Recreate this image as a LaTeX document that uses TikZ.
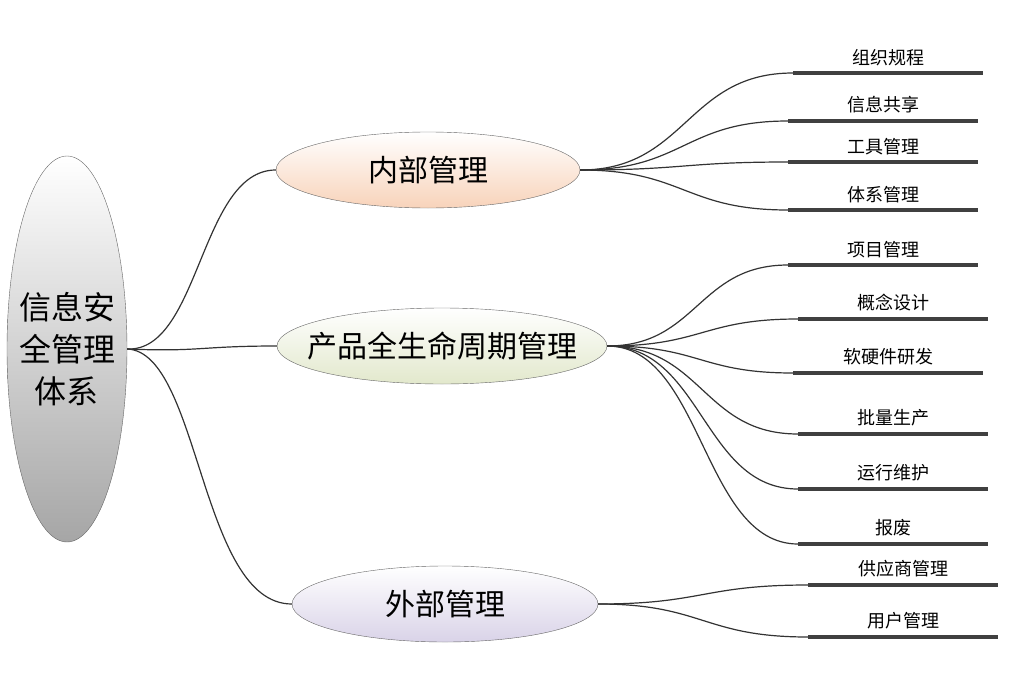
\documentclass[tikz,border=0pt]{standalone}
\usepackage{fontspec}
\setmainfont{Noto Sans CJK SC}
\usetikzlibrary{shapes.geometric, calc}
\definecolor{peach}{HTML}{F8D3BA}
\definecolor{sage}{HTML}{E2E8CC}
\definecolor{lilac}{HTML}{D9D3E8}
\definecolor{bar}{HTML}{404040}
\begin{document}
\begin{tikzpicture}[x=1pt, y=-1pt,
    topic/.style={ellipse, draw=black!60, inner xsep=-40pt, inner ysep=-10pt, font=\fontsize{30}{30}\selectfont},
    link/.style={draw=black!80, line width=1.2pt},
    leafbar/.style={draw=bar, line width=4.5pt},
    leaflabel/.style={font=\fontsize{18}{20}\selectfont, anchor=south}]

    \useasboundingbox (0,0) rectangle (1011,677);

    % root and topics
    \node[topic, minimum width=120pt, minimum height=386pt, align=center, inner ysep=-60pt,
          top color=white, bottom color=black!35, font=\fontsize{32}{42}\selectfont] (root) at (67,349) {信息安\\全管理\\体系};
    \node[topic, minimum width=304pt, minimum height=76pt, top color=white, bottom color=peach] (inner) at (428,170) {内部管理};
    \node[topic, minimum width=330pt, minimum height=76pt, top color=white, bottom color=sage] (life) at (442,346) {产品全生命周期管理};
    \node[topic, minimum width=306pt, minimum height=76pt, top color=white, bottom color=lilac] (outer) at (445,604) {外部管理};

    \draw[link] (root.east) .. controls (200,352) and (200,170) .. (inner.west);
    \draw[link] (root.east) .. controls (200,352) and (200,346) .. (life.west);
    \draw[link] (root.east) .. controls (200,352) and (200,604) .. (outer.west);

    % leaves: parent/x/y/label
    \foreach \p/\x/\y/\t in {inner/793/73/组织规程, inner/788/121/信息共享, inner/788/162/工具管理, inner/788/210/体系管理,
        life/788/265/项目管理, life/798/319/概念设计, life/793/373/软硬件研发, life/798/434/批量生产,
        life/798/489/运行维护, life/798/544/报废, outer/808/585/供应商管理, outer/808/637/用户管理} {
        \coordinate (s) at (\x,\y);
        \coordinate (m) at ($(\p.east)!0.5!(s)$);
        \draw[leafbar] (s) -- ++(190,0);
        \node[leaflabel] (lbl) at (\x+95,\y-4) {\t};
        \draw[link] (\p.east) .. controls (m |- \p.east) and (m |- s) .. (s);
    }
\end{tikzpicture}
\end{document}
